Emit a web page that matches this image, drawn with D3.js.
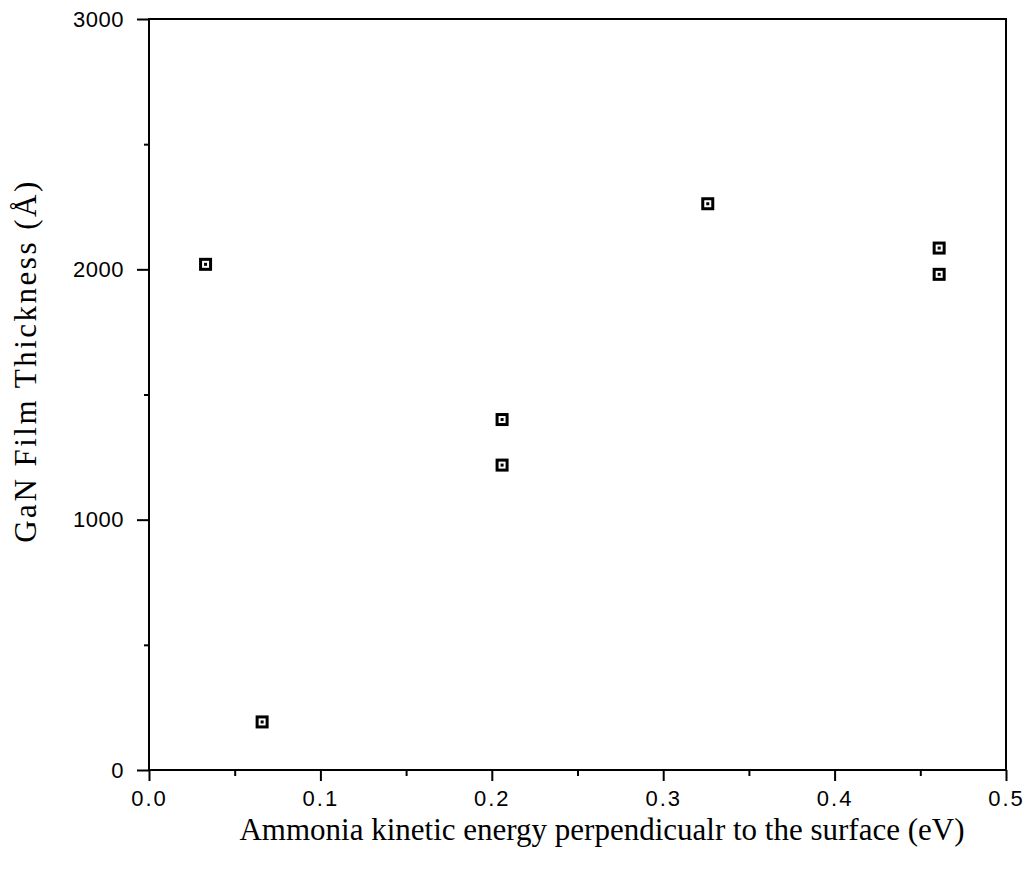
<!DOCTYPE html>
<html>
<head>
<meta charset="utf-8">
<script src="https://cdn.jsdelivr.net/npm/d3@7"></script>
<style>
  body { margin: 0; background: #fff; }
  svg { display: block; }
</style>
</head>
<body>
<svg id="chart" width="1029" height="869"></svg>
<script>
// data
const energy = [0.033, 0.066, 0.206, 0.206, 0.326, 0.461, 0.461];
const thickness = [2020, 192, 1400, 1218, 2262, 2085, 1980];
const xTicks = [0.0, 0.1, 0.2, 0.3, 0.4, 0.5];
const yTicks = [0, 1000, 2000, 3000];

const svg = d3.select('#chart');
const plotL = 149, plotR = 1006, plotT = 19, plotB = 770;

const x = d3.scaleLinear().domain([0, 0.5]).range([plotL, plotR]);
const y = d3.scaleLinear().domain([0, 3000]).range([plotB, plotT]);

// frame
svg.append('rect')
  .attr('x', plotL).attr('y', plotT)
  .attr('width', plotR - plotL).attr('height', plotB - plotT)
  .attr('fill', 'none').attr('stroke', '#000').attr('stroke-width', 2);

// x axis ticks (minor every 0.05)
const xAxis = svg.append('g').attr('transform', `translate(0,${plotB})`)
  .call(d3.axisBottom(x).tickValues(d3.range(0, 0.501, 0.05))
    .tickSize(9).tickFormat(d => {
      const m = xTicks.find(t => Math.abs(t - d) < 1e-6);
      return m === undefined ? '' : d3.format('.1f')(m);
    }));
xAxis.select('.domain').remove();
xAxis.selectAll('.tick line').attr('stroke', '#000').attr('stroke-width', 2)
  .attr('y2', (d, i) => i % 2 ? 6 : 11);
xAxis.selectAll('.tick text')
  .attr('y', 20)
  .style('font-family', '"Liberation Sans", Arial, sans-serif')
  .style('font-size', '22px').style('letter-spacing', '2px')
  .attr('fill', '#000');

// y axis ticks (minor every 500)
const yAxis = svg.append('g').attr('transform', `translate(${plotL},0)`)
  .call(d3.axisLeft(y).tickValues(d3.range(0, 3001, 500))
    .tickSize(9).tickFormat(d => yTicks.includes(d) ? d : ''));
yAxis.select('.domain').remove();
yAxis.selectAll('.tick line').attr('stroke', '#000').attr('stroke-width', 2)
  .attr('x2', (d, i) => i % 2 ? -5 : -12);
yAxis.selectAll('.tick text')
  .attr('x', -25)
  .style('font-family', '"Liberation Sans", Arial, sans-serif')
  .style('font-size', '22px').style('letter-spacing', '0.5px')
  .attr('fill', '#000');

// markers: thick square with a dot
const pts = energy.map((e, i) => ({ e: e, t: thickness[i] }));
const mk = svg.append('g').selectAll('g').data(pts).enter().append('g')
  .attr('transform', d => `translate(${x(d.e)},${y(d.t)})`);
mk.append('rect')
  .attr('x', -5).attr('y', -5).attr('width', 10).attr('height', 10)
  .attr('fill', '#fff').attr('stroke', '#000').attr('stroke-width', 3);
mk.append('rect')
  .attr('x', -1.5).attr('y', -1.5).attr('width', 3).attr('height', 3)
  .attr('fill', '#000');

// axis titles
svg.append('text')
  .attr('x', 602).attr('y', 840)
  .attr('text-anchor', 'middle')
  .style('font-family', '"Liberation Serif", "Times New Roman", serif')
  .style('font-size', '31px')
  .text('Ammonia kinetic energy perpendicualr to the surface (eV)');

svg.append('text')
  .attr('transform', 'translate(36,361) rotate(-90)')
  .attr('text-anchor', 'middle')
  .style('font-family', '"Liberation Serif", "Times New Roman", serif')
  .style('font-size', '31px').style('letter-spacing', '2.5px')
  .text('GaN Film Thickness (Å)');
</script>
</body>
</html>
